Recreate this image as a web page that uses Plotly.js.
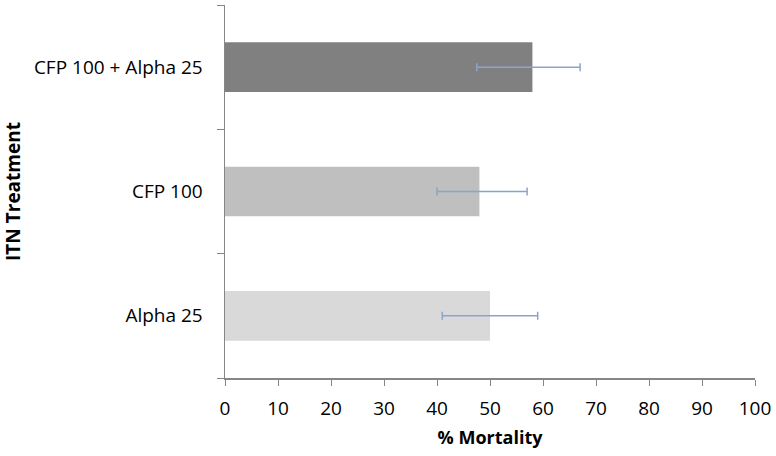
<!DOCTYPE html>
<html>
<head>
<meta charset="utf-8">
<script src="https://cdn.plot.ly/plotly-3.0.1.min.js"></script>
<style>html,body{margin:0;padding:0;background:#fff;}#chart{width:776px;height:456px;}</style>
</head>
<body>
<div id="chart"></div>
<script>
// Categories listed bottom to top
const categories = ["Alpha 25", "CFP 100", "CFP 100 + Alpha 25"];
const mortality = [50, 48, 58];
const errPlus = [9, 9, 9];
const errMinus = [9, 8, 10.5];
const barColors = ["#d9d9d9", "#bfbfbf", "#808080"];
const xTicks = [0, 10, 20, 30, 40, 50, 60, 70, 80, 90, 100];

const fontFam = "Open Sans, Liberation Sans, sans-serif";

const trace = {
  type: "bar",
  orientation: "h",
  y: categories,
  x: mortality,
  marker: {color: barColors, line: {width: 0}},
  error_x: {
    type: "data",
    symmetric: false,
    array: errPlus,
    arrayminus: errMinus,
    color: "#8aa5c8",
    thickness: 1.5,
    width: 4
  },
  hoverinfo: "skip"
};

const layout = {
  width: 776,
  height: 456,
  margin: {l: 225, r: 21, t: 5, b: 78},
  paper_bgcolor: "#ffffff",
  plot_bgcolor: "#ffffff",
  showlegend: false,
  bargap: 0.6,
  font: {family: fontFam, size: 19, color: "#000000"},
  xaxis: {
    range: [0, 100],
    tickvals: xTicks,
    ticktext: xTicks.map(String),
    showgrid: false,
    zeroline: false,
    showline: true,
    linecolor: "#868686",
    linewidth: 1.5,
    ticks: "outside",
    ticklen: 6,
    tickcolor: "#868686",
    tickwidth: 1,
    ticklabelstandoff: 7,
    tickfont: {family: fontFam, size: 19, color: "#000"},
    title: {text: "<b>% Mortality</b>", font: {family: fontFam, size: 18, color: "#000"}, standoff: 11},
    fixedrange: true
  },
  yaxis: {
    type: "category",
    categoryorder: "array",
    categoryarray: categories,
    showgrid: false,
    zeroline: false,
    showline: true,
    linecolor: "#868686",
    linewidth: 1.5,
    ticks: "outside",
    tickson: "boundaries",
    ticklen: 7,
    tickcolor: "#868686",
    tickwidth: 1,
    ticklabelstandoff: 17,
    tickfont: {family: fontFam, size: 19, color: "#000"},
    title: {text: "<b>ITN Treatment</b>", font: {family: fontFam, size: 19, color: "#000"}, standoff: 10},
    fixedrange: true
  }
};

Plotly.newPlot("chart", [trace], layout, {displayModeBar: false, staticPlot: true});
</script>
</body>
</html>
